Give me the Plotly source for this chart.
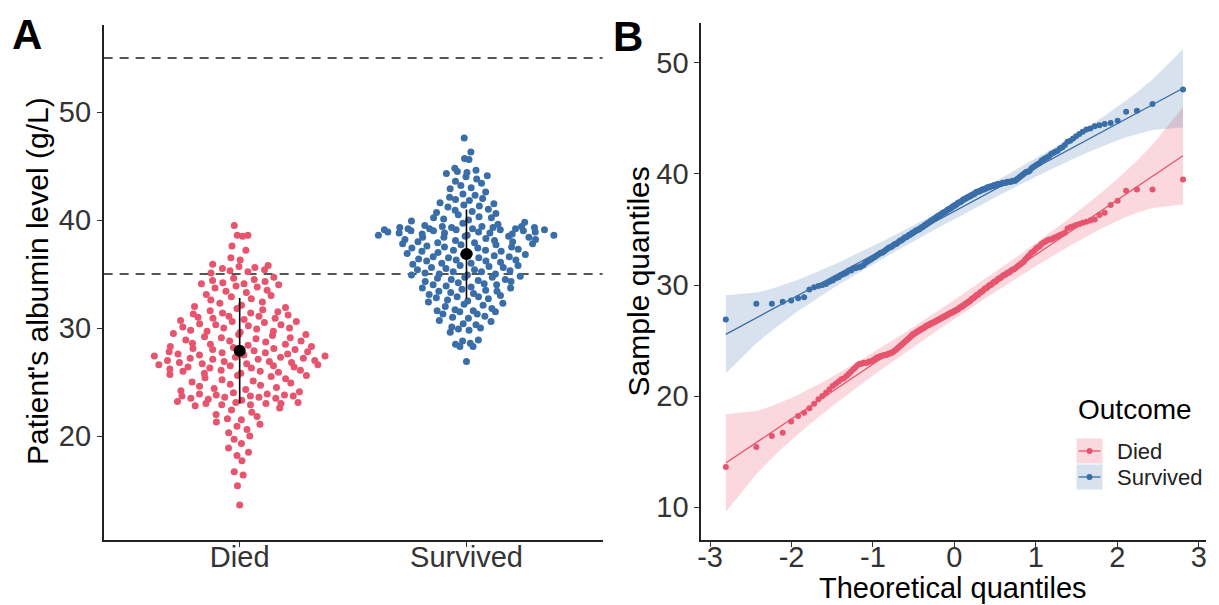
import numpy as np
import plotly.graph_objects as go
from statistics import NormalDist

# ---------------- data (albumin, g/L) ----------------
groups = ["Died", "Survived"]

died_albumin = [13.6, 15.4, 16.4, 16.7, 17.7, 18.2, 18.5, 18.9, 19.3, 19.7,
                20.0, 20.3, 20.6, 20.9, 21.1, 21.3, 21.5, 21.6, 21.8, 22.0,
                22.2, 22.4, 22.6, 22.8, 22.9, 22.9, 23.0, 23.0, 23.0, 23.1,
                23.1, 23.2, 23.3, 23.4, 23.5, 23.5, 23.6, 23.6, 23.7, 23.7,
                23.7, 23.8, 23.8, 23.9, 23.9, 24.0, 24.1, 24.2, 24.3, 24.4,
                24.5, 24.6, 24.7, 24.8, 24.9, 25.0, 25.1, 25.2, 25.3, 25.4,
                25.5, 25.6, 25.6, 25.7, 25.8, 25.8, 25.9, 26.0, 26.0, 26.1,
                26.1, 26.2, 26.3, 26.3, 26.4, 26.4, 26.5, 26.5, 26.6, 26.6,
                26.7, 26.7, 26.8, 26.8, 26.9, 26.9, 27.0, 27.0, 27.1, 27.1,
                27.2, 27.2, 27.3, 27.3, 27.4, 27.4, 27.5, 27.5, 27.6, 27.6,
                27.7, 27.7, 27.8, 27.8, 27.9, 28.0, 28.0, 28.1, 28.1, 28.2,
                28.3, 28.3, 28.4, 28.5, 28.5, 28.6, 28.7, 28.8, 28.8, 28.9,
                29.0, 29.1, 29.1, 29.2, 29.3, 29.4, 29.4, 29.5, 29.6, 29.7,
                29.7, 29.8, 29.9, 30.0, 30.0, 30.1, 30.2, 30.3, 30.3, 30.4,
                30.5, 30.6, 30.6, 30.7, 30.8, 30.9, 30.9, 31.0, 31.1, 31.1,
                31.2, 31.3, 31.4, 31.4, 31.5, 31.6, 31.7, 31.8, 31.9, 32.0,
                32.1, 32.3, 32.4, 32.6, 32.7, 32.9, 33.0, 33.1, 33.3, 33.4,
                33.5, 33.7, 33.8, 33.9, 34.0, 34.1, 34.1, 34.2, 34.3, 34.4,
                34.5, 34.6, 34.7, 35.1, 35.2, 35.3, 35.4, 35.5, 35.6, 35.7,
                35.8, 35.9, 36.3, 36.5, 37.2, 37.6, 38.5, 38.6, 38.6, 39.5]

survived_albumin = [26.9, 28.3, 28.3, 28.5, 28.6, 28.8, 28.9, 29.6, 29.8, 29.9,
                    30.0, 30.1, 30.3, 30.4, 30.6, 30.7, 30.9, 31.0, 31.1, 31.3,
                    31.3, 31.5, 31.5, 31.6, 31.6, 31.7, 31.8, 32.0, 32.1, 32.2,
                    32.3, 32.4, 32.5, 32.6, 32.7, 32.8, 32.9, 32.9, 33.0, 33.1,
                    33.2, 33.3, 33.4, 33.4, 33.5, 33.6, 33.7, 33.7, 33.8, 33.9,
                    34.0, 34.0, 34.1, 34.2, 34.3, 34.3, 34.4, 34.5, 34.5, 34.6,
                    34.7, 34.7, 34.8, 34.9, 34.9, 35.0, 35.0, 35.1, 35.2, 35.2,
                    35.3, 35.4, 35.4, 35.5, 35.6, 35.6, 35.7, 35.8, 35.8, 35.9,
                    36.0, 36.0, 36.1, 36.2, 36.2, 36.3, 36.3, 36.4, 36.5, 36.5,
                    36.6, 36.6, 36.7, 36.8, 36.8, 36.9, 36.9, 37.0, 37.1, 37.1,
                    37.2, 37.2, 37.3, 37.4, 37.4, 37.5, 37.5, 37.6, 37.7, 37.7,
                    37.8, 37.8, 37.9, 37.9, 38.0, 38.0, 38.1, 38.1, 38.2, 38.2,
                    38.3, 38.4, 38.4, 38.4, 38.5, 38.5, 38.6, 38.6, 38.6, 38.7,
                    38.7, 38.8, 38.8, 38.8, 38.9, 38.9, 38.9, 39.0, 39.0, 39.0,
                    39.1, 39.1, 39.1, 39.1, 39.2, 39.2, 39.2, 39.2, 39.3, 39.3,
                    39.3, 39.3, 39.4, 39.4, 39.4, 39.5, 39.6, 39.7, 39.8, 39.9,
                    40.0, 40.1, 40.2, 40.2, 40.3, 40.5, 40.6, 40.7, 40.8, 40.9,
                    41.0, 41.2, 41.3, 41.4, 41.5, 41.6, 41.8, 41.9, 42.0, 42.1,
                    42.3, 42.4, 42.6, 42.9, 43.0, 43.2, 43.4, 43.6, 43.8, 44.0,
                    44.1, 44.3, 44.4, 44.5, 44.6, 44.8, 45.6, 45.7, 46.3, 47.6]

reference_lines = [35, 55]
a_yticks = [20, 30, 40, 50]
b_yticks = [10, 20, 30, 40, 50]
b_xticks = [-3, -2, -1, 0, 1, 2, 3]

colors = {"Died": "#E6556D", "Survived": "#3A6EA8"}
band_colors = {"Died": "rgba(236,90,115,0.24)", "Survived": "rgba(58,110,168,0.20)"}
FONT = "Liberation Sans, Arial, sans-serif"

# the page body has an 8px margin: build the figure so it fills the 1219x605 window
PAGE_OFF = 8
W, H = 1219 - PAGE_OFF, 605 - PAGE_OFF

data = {"Died": np.array(died_albumin), "Survived": np.array(survived_albumin)}
nd = NormalDist()


def px(x):
    return (x - PAGE_OFF) / W


def py(y):
    return 1 - (y - PAGE_OFF) / H


def vandercorput(n, base=2):
    out = []
    for i in range(1, n + 1):
        v, denom, k = 0.0, 1.0, i
        while k > 0:
            k, r = divmod(k, base)
            denom *= base
            v += r / denom
        out.append(v)
    return np.array(out)


def quasirandom_offsets(y, width=0.4, adjust=0.5):
    y = np.asarray(y, float)
    n = len(y)
    sd = y.std(ddof=1)
    iqr = np.subtract(*np.percentile(y, [75, 25]))
    bw = 0.9 * min(sd, iqr / 1.34) * n ** (-0.2) * adjust
    dens = np.exp(-0.5 * ((y[:, None] - y[None, :]) / bw) ** 2).sum(axis=1)
    dens = dens / dens.max()
    ranks = np.argsort(np.argsort(y, kind="stable"), kind="stable")
    vdc = vandercorput(n)[ranks]
    return (vdc - 0.5) * 2 * width * dens


fig = go.Figure()

# ---------------- panel A ----------------
for gi, g in enumerate(groups):
    vals = data[g]
    off = quasirandom_offsets(vals)
    fig.add_trace(go.Scatter(x=(gi + 1) + off, y=vals, mode="markers",
                             marker=dict(size=7, color=colors[g]),
                             xaxis="x", yaxis="y", showlegend=False, hoverinfo="skip"))
for gi, g in enumerate(groups):
    vals = data[g]
    m, s = vals.mean(), vals.std(ddof=1)
    fig.add_trace(go.Scatter(x=[gi + 1, gi + 1], y=[m - s, m + s], mode="lines",
                             line=dict(color="black", width=1.6),
                             xaxis="x", yaxis="y", showlegend=False, hoverinfo="skip"))
    fig.add_trace(go.Scatter(x=[gi + 1], y=[m], mode="markers",
                             marker=dict(size=12, color="black"),
                             xaxis="x", yaxis="y", showlegend=False, hoverinfo="skip"))

for r in reference_lines:
    fig.add_shape(type="line", xref="x domain", yref="y", x0=0, x1=1, y0=r, y1=r,
                  line=dict(color="#555555", width=2, dash="9px,7px"), layer="below")

# ---------------- panel B (QQ) ----------------
qq = {}
for g in groups:
    vals = np.sort(data[g])
    n = len(vals)
    a = 3 / 8 if n <= 10 else 0.5
    p = (np.arange(1, n + 1) - a) / (n + 1 - 2 * a)
    q = np.array([nd.inv_cdf(pp) for pp in p])
    y1, y2 = np.quantile(vals, [0.25, 0.75])
    x1, x2 = nd.inv_cdf(0.25), nd.inv_cdf(0.75)
    slope = (y2 - y1) / (x2 - x1)
    inter = y1 - slope * x1
    fit = inter + slope * q
    se = slope / np.array([nd.pdf(v) for v in q]) * np.sqrt(p * (1 - p) / n)
    z = nd.inv_cdf(0.975)
    qq[g] = (q, vals, fit, fit + z * se, fit - z * se)

for g in groups:
    q, vals, fit, up, lo = qq[g]
    fig.add_trace(go.Scatter(x=np.concatenate([q, q[::-1]]), y=np.concatenate([up, lo[::-1]]),
                             fill="toself", fillcolor=band_colors[g], line=dict(width=0),
                             mode="lines", xaxis="x2", yaxis="y2", showlegend=False, hoverinfo="skip"))
for g in groups:
    q, vals, fit, up, lo = qq[g]
    fig.add_trace(go.Scatter(x=[q[0], q[-1]], y=[fit[0], fit[-1]], mode="lines",
                             line=dict(color=colors[g], width=1.3),
                             xaxis="x2", yaxis="y2", showlegend=False, hoverinfo="skip"))
    fig.add_trace(go.Scatter(x=q, y=vals, mode="markers",
                             marker=dict(size=6, color=colors[g]),
                             xaxis="x2", yaxis="y2", showlegend=False, hoverinfo="skip"))

axis_common = dict(showline=True, linecolor="#222222", linewidth=1.5, ticks="outside",
                   ticklen=5, tickcolor="#333333", tickwidth=1.2, showgrid=False, zeroline=False,
                   tickfont=dict(family=FONT, size=29, color="#333333"))

fig.update_layout(
    width=W, height=H, autosize=False,
    margin=dict(l=0, r=0, t=0, b=0),
    paper_bgcolor="white", plot_bgcolor="white",
    showlegend=False,
    xaxis=dict(domain=[px(100), px(601)], range=[0.4, 2.6], tickvals=[1, 2], ticktext=groups,
               anchor="y", ticklabelstandoff=-15, **axis_common),
    yaxis=dict(domain=[py(540), py(25)], range=[10.37, 58.06], tickvals=a_yticks,
               anchor="x", **axis_common),
    xaxis2=dict(domain=[px(700), px(1207)], range=[-3.11, 3.09], tickvals=b_xticks,
                ticktext=[str(t) for t in b_xticks], anchor="y2", ticklabelstandoff=-15,
                **axis_common),
    yaxis2=dict(domain=[py(540), py(23)], range=[7.03, 53.6], tickvals=b_yticks,
                anchor="x2", **axis_common),
)

ann = []
ann.append(dict(text="<b>A</b>", x=px(6), y=py(35), xref="paper", yref="paper",
                xanchor="left", yanchor="middle", showarrow=False,
                font=dict(family=FONT, size=42, color="black")))
ann.append(dict(text="<b>B</b>", x=px(609), y=py(37), xref="paper", yref="paper",
                xanchor="left", yanchor="middle", showarrow=False,
                font=dict(family=FONT, size=42, color="black")))
ann.append(dict(text="Patient's albumin level (g/L)", x=px(33), y=py(281), xref="paper", yref="paper",
                xanchor="center", yanchor="middle", textangle=-90, showarrow=False,
                font=dict(family=FONT, size=30, color="black")))
ann.append(dict(text="Sample quantiles", x=px(637), y=py(281), xref="paper", yref="paper",
                xanchor="center", yanchor="middle", textangle=-90, showarrow=False,
                font=dict(family=FONT, size=30, color="black")))
ann.append(dict(text="Theoretical quantiles", x=px(953), y=py(588), xref="paper", yref="paper",
                xanchor="center", yanchor="middle", showarrow=False,
                font=dict(family=FONT, size=29, color="black")))
# legend
ann.append(dict(text="Outcome", x=px(1076), y=py(409), xref="paper", yref="paper",
                xanchor="left", yanchor="middle", showarrow=False,
                font=dict(family=FONT, size=28, color="black")))
key_y = {"Died": 451, "Survived": 477}
for g in groups:
    ann.append(dict(text=g, x=px(1116), y=py(key_y[g]), xref="paper", yref="paper",
                    xanchor="left", yanchor="middle", showarrow=False,
                    font=dict(family=FONT, size=22, color="#222222")))
    yc = key_y[g]
    fig.add_shape(type="rect", xref="paper", yref="paper", x0=px(1077), x1=px(1103),
                  y0=py(yc + 12.5), y1=py(yc - 12.5), fillcolor=band_colors[g], line=dict(width=0))
    fig.add_shape(type="line", xref="paper", yref="paper", x0=px(1079), x1=px(1101),
                  y0=py(yc), y1=py(yc), line=dict(color=colors[g], width=1.3))
    fig.add_shape(type="circle", xref="paper", yref="paper", x0=px(1087), x1=px(1093),
                  y0=py(yc + 3), y1=py(yc - 3), fillcolor=colors[g], line=dict(width=0))

fig.update_layout(annotations=ann)
fig.write_html("out.html")
